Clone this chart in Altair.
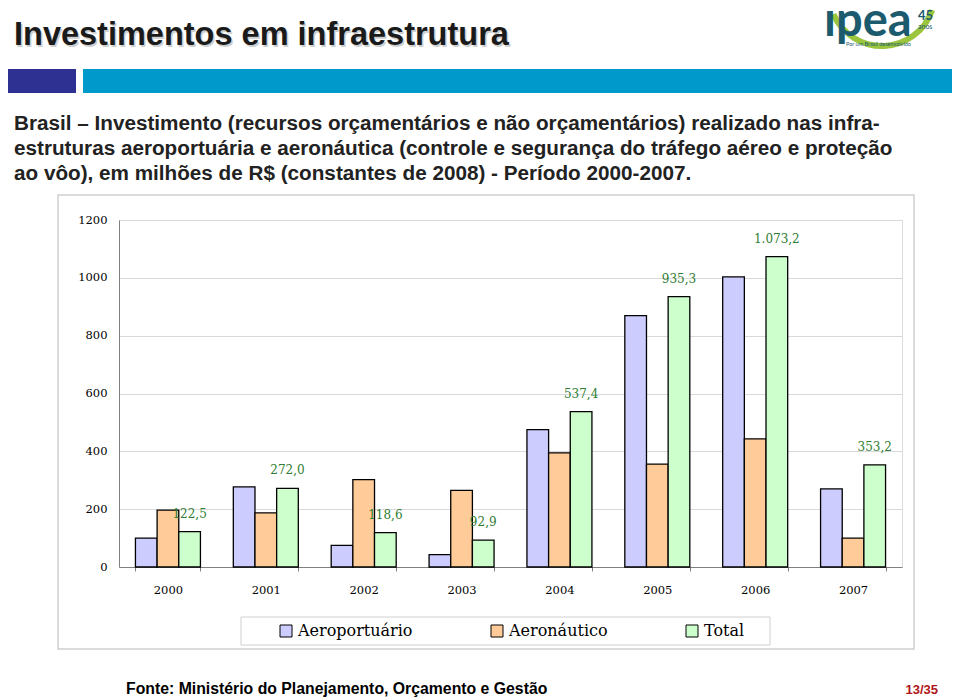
import altair as alt
import pandas as pd

# ---------------- data ----------------
years = ["2000", "2001", "2002", "2003", "2004", "2005", "2006", "2007"]
series_names = ["Aeroportuário", "Aeronáutico", "Total"]
aeroportuario = [100, 277, 75, 43, 475, 869, 1003, 270]
aeronautico = [197, 187, 302, 265, 395, 356, 443, 100]
total = [122.5, 272.0, 118.6, 92.9, 537.4, 935.3, 1073.2, 353.2]
y_ticks = [0, 200, 400, 600, 800, 1000, 1200]
series_colors = ["#CCCCFF", "#FFCC99", "#CCFFCC"]

title_text = "Investimentos em infraestrutura"
subtitle_lines = [
    "Brasil – Investimento (recursos orçamentários e não orçamentários) realizado nas infra-",
    "estruturas aeroportuária e aeronáutica (controle e segurança do tráfego aéreo e proteção",
    "ao vôo), em milhões de R$ (constantes de 2008) - Período 2000-2007.",
]
source_text = "Fonte: Ministério do Planejamento, Orçamento e Gestão"
page_text = "13/35"


def br(v):
    s = f"{v:,.1f}"
    return s.replace(",", "X").replace(".", ",").replace("X", ".")


rows = []
for name, vals in zip(series_names, [aeroportuario, aeronautico, total]):
    for yr, v in zip(years, vals):
        rows.append({"year": yr, "series": name, "value": v, "label": br(v)})
df = pd.DataFrame(rows)

# ---------------- layout ----------------
OX, OY = 119, 220      # page position of plot origin
W, H = 783, 347
RIGHT = 952            # right edge of the canvas on the page
SERIF = "DejaVu Serif"
SANS = "Liberation Sans"

one = pd.DataFrame({"t": [""]})


def txt(text, x, y, **kw):
    return alt.Chart(pd.DataFrame({"t": [text]})).mark_text(**kw).encode(
        x=alt.value(x - OX), y=alt.value(y - OY), text="t:N")


def rect(x1, y1, x2, y2, **kw):
    return alt.Chart(one).mark_rect(**kw).encode(
        x=alt.value(x1 - OX), x2=alt.value(x2 - OX),
        y=alt.value(y1 - OY), y2=alt.value(y2 - OY))


x_enc = alt.X("year:N", sort=years,
              scale=alt.Scale(paddingInner=0.336, paddingOuter=0.168),
              axis=alt.Axis(title=None, labelAngle=0, labelFont=SERIF, labelFontSize=11.5,
                            labelColor="black", labelPadding=13, tickBand="extent",
                            ticks=True, tickSize=4, tickColor="#808080",
                            domainColor="#808080", grid=False))
xo_enc = alt.XOffset("series:N", sort=series_names,
                     scale=alt.Scale(domain=series_names, paddingInner=0, paddingOuter=0))
y_enc = alt.Y("value:Q", scale=alt.Scale(domain=[0, 1200], nice=False),
              axis=alt.Axis(title=None, values=y_ticks, format="d", grid=True,
                            gridColor="#D9D9D9", ticks=False, domainColor="#808080",
                            labelPadding=12, labelFont=SERIF, labelFontSize=11.5,
                            labelColor="black"))

bars = alt.Chart(df).mark_bar(stroke="black", strokeWidth=1.3).encode(
    x=x_enc, xOffset=xo_enc, y=y_enc,
    color=alt.Color("series:N", sort=series_names,
                    scale=alt.Scale(domain=series_names, range=series_colors),
                    legend=alt.Legend(orient="none", legendX=159, legendY=403,
                                      direction="horizontal", title=None,
                                      symbolType="square", symbolSize=144,
                                      symbolStrokeColor="black", symbolStrokeWidth=1,
                                      labelFont=SERIF, labelFontSize=16,
                                      labelColor="black", columnPadding=76,
                                      padding=0, labelOffset=4)),
)

labels = alt.Chart(df).transform_filter(alt.datum.series == "Total").mark_text(
    dy=-18, color="#2E7D32", font=SERIF, fontSize=12).encode(
    x=alt.X("year:N", sort=years), xOffset=alt.XOffset("series:N", sort=series_names),
    y="value:Q", text="label:N")

decor = [
    rect(58, 195, 914, 649, fill=None, stroke="#CFCFCF", strokeWidth=1.5),
    rect(241, 617, 770, 645, fill=None, stroke="#D0D0D0", strokeWidth=1),
    rect(5, 69, 76, 93, color="#2E3192"),
    rect(83, 69, RIGHT, 93, color="#0099CC"),
    txt(title_text, 15.5, 46.5, font=SANS, fontSize=32.5, fontWeight="bold",
        color="#CFCFCF", align="left", baseline="alphabetic"),
    txt(title_text, 14, 45, font=SANS, fontSize=32.5, fontWeight="bold",
        color="#1A1A1A", align="left", baseline="alphabetic"),
    txt(subtitle_lines[0], 14, 129.5, font=SANS, fontSize=20.7, fontWeight="bold",
        color="#222222", align="left", baseline="alphabetic"),
    txt(subtitle_lines[1], 14, 154.5, font=SANS, fontSize=20.7, fontWeight="bold",
        color="#222222", align="left", baseline="alphabetic"),
    txt(subtitle_lines[2], 14, 180, font=SANS, fontSize=20.7, fontWeight="bold",
        color="#222222", align="left", baseline="alphabetic"),
    txt(source_text, 126, 694, font=SANS, fontSize=15.8, fontWeight="bold",
        color="black", align="left", baseline="alphabetic"),
    txt(page_text, 938, 694, font=SANS, fontSize=13, fontWeight="bold",
        color="#B0151A", align="right", baseline="alphabetic"),
    # logo
    alt.Chart(one).mark_arc(theta=1.9, theta2=4.3, radius=50, radius2=56,
                            color="#9BC53D").encode(
        x=alt.value(882 - OX), y=alt.value(-7 - OY)),
    txt("ipea", 824, 36, font="Lato", fontSize=47, fontWeight="bold",
        color="#1C5A6E", align="left", baseline="alphabetic"),
    txt("45", 918, 20, font="Lato", fontSize=13, fontWeight="bold",
        color="#1C5A6E", align="left", baseline="alphabetic"),
    txt("anos", 918, 29, font="Lato", fontSize=7,
        color="#1C5A6E", align="left", baseline="alphabetic"),
    txt("Por um Brasil desenvolvido", 846, 46, font="Lato", fontSize=5.5,
        color="#1C5A6E", align="left", baseline="alphabetic"),
]

chart = alt.layer(bars, labels, *decor).properties(
    width=W, height=H,
    padding={"left": OX - 8, "top": OY - 8, "right": RIGHT - OX - W,
             "bottom": 690 - (OY - 8) - H},
    autosize=alt.AutoSizeParams(type="none"),
).configure_view(stroke="#A0A0A0", strokeWidth=1).configure(background="white")

chart.save("out.html", embed_options={"renderer": "svg", "actions": False})
